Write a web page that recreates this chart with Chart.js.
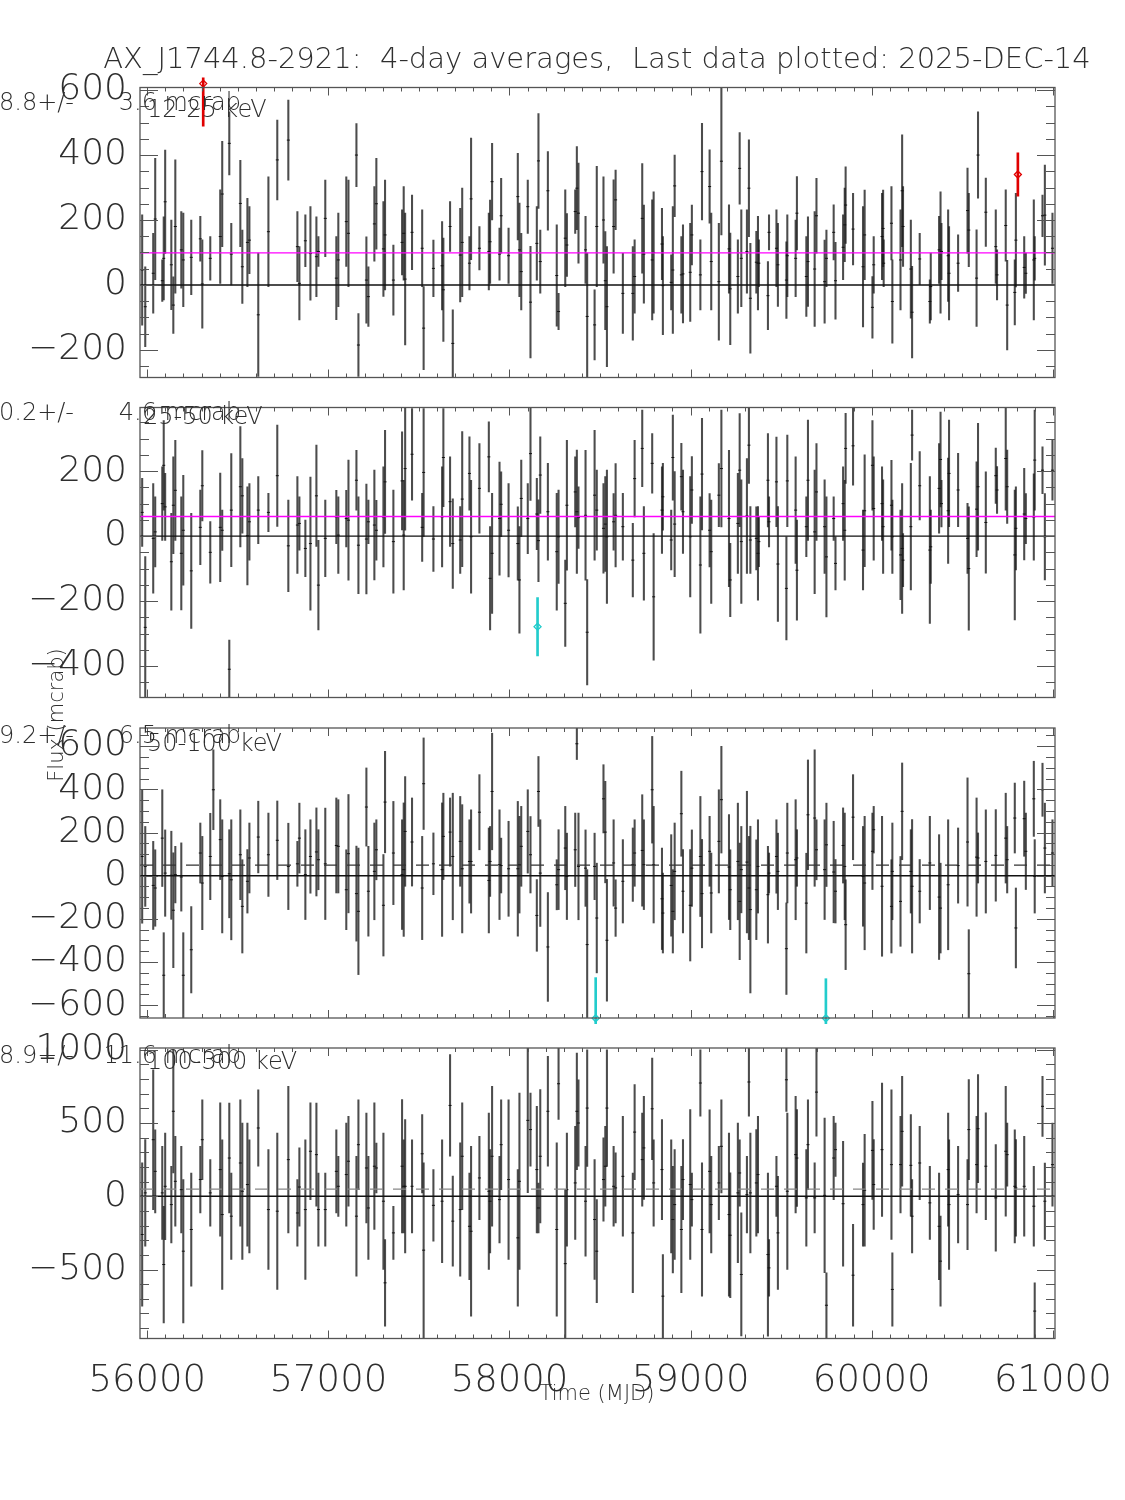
<!DOCTYPE html>
<html lang="en">
<head>
  <meta charset="UTF-8">
  <title>AX_J1744.8-2921 4-day averages</title>
  <script src="https://cdn.jsdelivr.net/npm/chart.js"></script>
  <style>
    body { margin: 0; background: #ffffff; }
    #wrap { position: relative; width: 1125px; height: 1500px; background: #ffffff; overflow: hidden; }
    #wrap canvas { position: absolute; left: 0; }
  </style>
</head>
<body>
  <div id="wrap">
    <canvas id="c1" width="1125" height="430" style="top:0px"></canvas>
    <canvas id="c2" width="1125" height="400" style="top:350px"></canvas>
    <canvas id="c3" width="1125" height="470" style="top:600px"></canvas>
    <canvas id="c4" width="1125" height="510" style="top:990px"></canvas>
  </div>
  <script>
    // time of each 4-day bin (MJD), shared by the four bands
    const mjd = [
      55972, 55989, 56033, 56044, 56083, 56091, 56099, 56133, 56144, 56155,
      56188, 56199, 56243, 56293, 56304, 56348, 56365, 56403, 56414, 56453,
      56464, 56514, 56525, 56553, 56564, 56613, 56669, 56718, 56779, 56829,
      56840, 56873, 56901, 56934, 56945, 56983, 57044, 57055, 57099, 57111,
      57155, 57166, 57210, 57221, 57254, 57265, 57304, 57313, 57359, 57407,
      57416, 57424, 57462, 57518, 57526, 57580, 57628, 57635, 57672, 57687,
      57728, 57739, 57779, 57788, 57834, 57886, 57893, 57904, 57945, 57954,
      57995, 58046, 58055, 58065, 58101, 58116, 58151, 58160, 58170, 58212,
      58261, 58271, 58308, 58317, 58363, 58372, 58381, 58420, 58429, 58470,
      58482, 58519, 58529, 58538, 58575, 58586, 58626, 58681, 58691, 58733,
      58742, 58788, 58796, 58842, 58847, 58893, 58902, 58912, 58949, 58958,
      58998, 59007, 59054, 59063, 59105, 59114, 59156, 59170, 59212, 59219,
      59261, 59271, 59280, 59311, 59322, 59330, 59363, 59372, 59377, 59427,
      59433, 59474, 59482, 59529, 59534, 59580, 59587, 59639, 59648, 59685,
      59695, 59740, 59750, 59790, 59800, 59842, 59851, 59856, 59897, 59952,
      59961, 60004, 60011, 60057, 60063, 60066, 60109, 60114, 60159, 60168,
      60173, 60216, 60223, 60265, 60321, 60326, 60372, 60380, 60385, 60422,
      60427, 60477, 60529, 60536, 60579, 60587, 60630, 60685, 60692, 60740,
      60748, 60790, 60796, 60842, 60851, 60895, 60900, 60943, 60956, 60998
    ];

    // 12-25 keV
    const flux12 = [
      46, -67, 36, 203, 13, 82, 256, 62, -62, 180,
      108, 77, 85, 142, 3, 82, null, 149, 280, 436,
      95, 251, 56, 131, 138, -92, 164, 385, 446, 118,
      5, 136, 97, 87, 103, 205, 21, 77, 195, 159,
      400, -185, 15, -36, 188, 250, 111, 154, 15, 131,
      159, 18, 162, 113, -133, 51, 59, -15, 180, -180,
      92, 131, 67, 265, 113, 103, 133, 318, 95, 213,
      90, 272, 108, 41, 241, -53, 128, 382, 72, 290,
      29, -82, 144, 123, 226, 298, 221, 108, -97, -123,
      180, 200, 13, -67, 180, 262, -26, -26, 26, 205,
      95, 77, 100, 126, -2, 8, 46, 305, 31, 34,
      39, 154, 31, 349, 303, 72, 10, 381, 111, -12,
      26, 359, 82, 103, 298, -41, 70, 67, 67, -33,
      162, 113, 62, 15, 90, 82, 221, 26, 72, 49,
      213, 10, 82, 162, 13, 116, 185, 246, 172, 56,
      154, -69, 62, 149, 174, 67, 190, -51, 77, 290,
      180, 49, -84, 80, -51, -5, 108, 100, 103, 90,
      36, 67, 229, 169, 21, 400, 224, 118, 31, 183,
      -62, -23, 138, 54, 36, 77, 82, 213, 215, 113
    ];
    const err12 = [
      170, 123, 123, 187, 64, 128, 159, 138, 87, 205,
      118, 144, 115, 69, 136, 67, null, 144, 162, 97,
      95, 133, 113, 136, 103, 190, 169, 123, 123, 108,
      113, 80, 144, 123, 46, 118, 128, 144, 138, 164,
      97, 97, 133, 92, 115, 140, 146, 169, 108, 100,
      144, 203, 115, 118, 128, 87, 136, 159, 77, 103,
      144, 167, 82, 187, 67, 118, 128, 118, 80, 115,
      85, 133, 144, 118, 82, 172, 113, 146, 97, 121,
      156, 56, 149, 97, 67, 128, 154, 103, 195, 108,
      185, 133, 151, 185, 144, 92, 123, 144, 113, 169,
      151, 185, 187, 110, 151, 85, 195, 95, 118, 151,
      151, 92, 108, 149, 113, 149, 180, 227, 136, 172,
      113, 110, 149, 128, 149, 169, 95, 144, 72, 105,
      54, 118, 128, 118, 126, 118, 113, 123, 138, 177,
      115, 128, 87, 85, 118, 100, 113, 118, 110, 185,
      138, 95, 87, 133, 118, 72, 113, 128, 154, 172,
      123, 151, 141, 79, 67, 103, 103, 187, 87, 141,
      144, 87, 131, 113, 149, 133, 105, 113, 77, 110,
      138, 100, 144, 95, 62, 185, 67, 64, 154, 108
    ];

    // 25-50 keV
    const flux25 = [
      73, -281, -7, 13, 100, 218, 90, -79, 95, 141,
      -53, 18, -107, 27, 155, -50, null, 27, 18, -410,
      80, 152, 124, 1, 44, 80, 73, 186, -30, 34,
      39, -38, -23, 124, -151, -7, 59, 3, 54, 49,
      172, -28, -9, 44, 34, 18, 59, 167, -17, 170,
      3, 208, 252, 27, 196, -9, 59, 242, 106, -23,
      -12, 114, 193, -2, 147, 244, -130, -53, 54, 98,
      18, -23, -135, 116, 54, 254, 68, -14, 188, 75,
      -48, -2, -207, 95, 136, 75, 57, 64, -296, 126,
      80, 24, 37, -2, 44, 64, 29, -74, 177, 270,
      -53, 224, -187, 80, 121, -12, 242, 37, 183, 75,
      -2, 142, -89, 191, 18, -48, 126, 208, 54, -135,
      39, 203, -17, 62, 280, -12, -7, -53, -17, 172,
      44, 167, -86, -161, 170, 80, -105, 29, 172, 13,
      136, 29, -64, 54, -84, 100, 18, 270, 278, -43,
      78, 218, 85, 100, 29, null, 95, -2, -58, -38,
      -74, 29, 311, 155, -43, -33, 147, 236, 100, 78,
      193, 142, -7, -100, 83, 152, 42, 186, 142, 239,
      152, -58, 24, 68, 54, 59, 234, 203, -2, 203
    ];
    const err25 = [
      105, 218, 169, 108, 113, 138, 103, 149, 149, 154,
      174, 169, 177, 115, 108, 95, null, 167, 62, 90,
      174, 185, 115, 151, 118, 103, 59, 156, 141, 149,
      82, 87, 205, 156, 138, 118, 82, 118, 87, 185,
      92, 149, 169, 67, 169, 92, 154, 159, 159, 151,
      169, 190, 141, 105, 197, 100, 154, 151, 138, 138,
      103, 208, 113, 174, 138, 108, 159, 185, 174, 100,
      144, 113, 164, 118, 108, 144, 110, 126, 118, 149,
      180, 144, 133, 200, 108, 190, 95, 200, 162, 200,
      123, 138, 146, 205, 87, 159, 103, 113, 118, 118,
      144, 92, 195, 133, 103, 92, 131, 162, 103, 128,
      185, 103, 210, 172, 113, 159, 97, 180, 210, 113,
      154, 174, 190, 177, 118, 103, 97, 144, 77, 144,
      77, 138, 177, 159, 141, 164, 154, 92, 185, 190,
      149, 144, 185, 67, 82, 113, 154, 108, 121, 123,
      172, 138, 159, 113, 144, null, 138, 113, 138, 200,
      82, 195, 77, 105, 226, 113, 138, 146, 72, 162,
      164, 113, 108, 190, 146, 195, 156, 85, 72, 159,
      113, 200, 128, 141, 77, 133, 154, 72, 133, 92
    ];

    // 50-100 keV
    const flux50 = [
      89, 43, -45, -57, 174, -461, 12, 2, -160, 5,
      -6, -461, -343, 105, -34, 89, 398, 167, -3, 9,
      -19, 97, -142, -26, 82, 179, 97, 164, 43, 55,
      174, 5, 89, 110, 74, 55, 140, 136, -65, 102,
      -83, -165, 318, -72, 20, 120, -137, 341, 105, 5,
      28, 205, 156, -57, 426, 55, 28, 182, 202, 89,
      159, 32, 66, 66, 294, -22, 66, 390, 51, 47,
      32, 32, 51, 136, 205, 97, -184, 390, 12, -330,
      -42, 28, 128, -3, 120, 611, 43, 35, -319, 43,
      -196, 356, 202, -299, 59, -150, -26, 51, 105, 117,
      51, 398, 51, -107, -173, -45, -165, 20, 287, -72,
      -137, 35, 89, -83, 113, -80, 159, 352, 40, -65,
      66, -119, 28, 63, -57, -157, -65, 43, null, -88,
      12, 89, 20, -338, 105, 74, 82, -127, 282, 267,
      120, 28, 143, 17, -72, 140, 43, -227, 271, -3,
      -34, 113, 213, -49, null, null, -142, 20, -119, 298,
      null, 20, -49, -72, 59, null, -99, -150, null, -42,
      null, 47, 156, -454, 86, 82, 66, 94, null, 174,
      74, 267, -242, 264, 113, 356, -3, 398, 128, 105
    ];
    const err50 = [
      309, 185, 204, 177, 224, 197, 200, 204, 266, 131,
      158, 197, 200, 139, 216, 200, 185, 185, 262, 204,
      278, 208, 216, 147, 162, 166, 193, 182, 200, 104,
      162, 208, 170, 204, 139, 258, 220, 216, 185, 274,
      220, 293, 181, 208, 224, 139, 235, 235, 239, 254,
      309, 254, 204, 239, 212, 143, 309, 200, 158, 293,
      208, 297, 193, 239, 174, 243, 162, 270, 254, 127,
      220, 312, 224, 185, 193, 177, 166, 162, 247, 252,
      116, 185, 193, 200, 170, 73, 247, 177, 347, 154,
      254, 158, 235, 282, 200, 131, 193, 170, 154, 258,
      208, 247, 270, 235, 185, 235, 193, 224, 197, 193,
      258, 177, 278, 251, 162, 185, 239, 247, 243, 185,
      270, 270, 200, 328, 239, 386, 231, 216, null, 224,
      93, 170, 177, 212, 231, 278, 131, 231, 254, 316,
      139, 231, 193, 235, 147, 174, 247, 208, 197, 231,
      309, 177, 108, 324, null, null, 216, 224, 208, 224,
      null, 193, 309, 147, 216, null, 289, 208, null, 301,
      null, 174, 297, 204, 274, 116, 239, 212, null, 208,
      154, 162, 185, 174, 177, 174, 170, 123, 208, 154
    ];

    // 100-300 keV
    const flux100 = [
      -261, 23, 386, 170, 23, -466, 68, -57, 580, 102,
      45, -375, -227, 114, 386, 23, null, 182, -125, 261,
      -136, 227, 34, 80, 0, 466, -91, -102, 250, -114,
      63, -91, 307, 284, -91, -91, 170, 68, 148, 239,
      -136, 352, 193, -80, 205, 193, -34, -591, -250, 205,
      68, 68, 68, 290, -368, -62, -34, null, 620, -170,
      -91, 273, -205, -239, 125, 34, -34, 273, -23, 352,
      114, -284, 102, null, 518, 455, 182, -80, 273, 580,
      -227, 768, -460, 45, 91, 580, 500, -34, 602, -159,
      -375, 114, 205, 602, 68, 57, 136, -250, 438, 250,
      330, 597, 91, 182, -682, 0, -159, -57, -227, 114,
      80, -23, 773, -227, 170, -57, 91, 341, -125, -266,
      23, 159, -534, 11, 780, 23, 91, 148, null, -398,
      -489, 68, -250, 795, 34, 284, 261, -11, 352, -11,
      711, 6, -744, 261, 318, -51, null, null, -539, -57,
      41, 313, 80, 318, null, null, 216, -636, 216, 443,
      null, 211, -136, 227, -45, null, -205, -443, null, 182,
      -57, 11, -57, 455, 216, 461, 205, -11, null, 307,
      284, 68, 57, 68, null, -68, -784, 614, -34, 216
    ];
    const err100 = [
      489, 364, 477, 284, 318, 398, 364, 261, 420, 307,
      295, 489, 386, 227, 273, 227, null, 455, 511, 375,
      295, 432, 466, 420, 386, 261, 409, 534, 500, 227,
      267, 477, 330, 352, 250, 250, 284, 205, 352, 307,
      409, 307, 375, 352, 432, 170, 466, 295, 182, 455,
      318, 455, 318, 267, 597, 244, 420, null, 347, 307,
      455, 364, 364, 580, 284, 534, 352, 477, 295, 307,
      545, 466, 602, null, 494, 250, 432, 170, 455, 375,
      591, 244, 506, 386, 386, 398, 295, 375, 398, 409,
      352, 284, 273, 398, 273, 239, 409, 409, 324, 318,
      352, 347, 295, 341, 284, 386, 364, 375, 432, 273,
      511, 182, 227, 455, 420, 330, 250, 318, 557, 426,
      477, 227, 420, 261, 233, 409, 364, 398, null, 557,
      193, 205, 386, 216, 534, 398, 330, 330, 307, 239,
      301, 528, 222, 284, 182, 426, null, null, 347, 284,
      381, 335, 307, 455, null, null, 511, 250, 330, 375,
      null, 347, 250, 250, 250, null, 364, 307, null, 386,
      443, 330, 307, 341, 330, 369, 364, 364, null, 443,
      216, 386, 330, 341, null, 273, 193, 205, 261, 284
    ];

    // highlighted points (red = high, cyan = low)
    const redMjd = [56309, 60807];
    const redFlux = [620, 340];
    const redErr = [131, 67];
    const cyan25Mjd = [58155];
    const cyan25Flux = [-279];
    const cyan25Err = [90];
    const cyan50Mjd = [58476, 59747];
    const cyan50Flux = [-660, -660];
    const cyan50Err = [188, 183];

    const bandNames = ['12-25 keV', '25-50 keV', '50-100 keV', '100-300 keV'];
    const bandMean = [98.8, 60.2, 49.2, 48.9];
    const bandMeanErr = [3.6, 4.6, 6.5, 11.6];

    const xTicks = [56000, 57000, 58000, 59000, 60000, 61000];
    const yTicks12 = [-200, 0, 200, 400, 600];
    const yTicks25 = [-400, -200, 0, 200];
    const yTicks50 = [-600, -400, -200, 0, 200, 400, 600];
    const yTicks100 = [-500, 0, 500, 1000];

    const X_MIN = 55960, X_MAX = 61012;
    const FONT = "'DejaVu Sans', sans-serif";
    const TXT = '#2e2e2e';

    function errBars(xs, vals, errs) {
      const out = [];
      xs.forEach((x, i) => {
        if (vals[i] !== null) out.push({ x: x, y: [vals[i] - errs[i], vals[i] + errs[i]] });
      });
      return out;
    }
    function centers(xs, vals) {
      const out = [];
      xs.forEach((x, i) => { if (vals[i] !== null) out.push({ x: x, y: vals[i] }); });
      return out;
    }
    const minus = v => (v < 0 ? '\u2212' + (-v) : String(v));

    // frame, inward ticks and free text
    const framePlugin = {
      id: 'frame',
      afterDraw(chart, args, opts) {
        const { ctx, chartArea: a } = chart;
        const x = chart.scales.x, y = chart.scales.y;
        ctx.save();
        ctx.strokeStyle = '#555';
        ctx.lineWidth = 1.3;
        ctx.strokeRect(a.left, a.top, a.right - a.left, a.bottom - a.top);
        ctx.lineWidth = 1;
        ctx.beginPath();
        for (let v = 56000; v <= 61000; v += 100) {
          const px = Math.round(x.getPixelForValue(v)) + 0.5;
          const len = v % 1000 === 0 ? 8 : 4;
          ctx.moveTo(px, a.bottom); ctx.lineTo(px, a.bottom - len);
          ctx.moveTo(px, a.top); ctx.lineTo(px, a.top + len);
        }
        const start = Math.ceil(y.min / opts.minor) * opts.minor;
        for (let v = start; v <= y.max; v += opts.minor) {
          const py = Math.round(y.getPixelForValue(v)) + 0.5;
          const len = opts.yTicks.includes(v) ? 18 : 9;
          ctx.moveTo(a.left, py); ctx.lineTo(a.left + len, py);
          ctx.moveTo(a.right, py); ctx.lineTo(a.right - len, py);
        }
        ctx.stroke();
        ctx.fillStyle = TXT;
        ctx.textBaseline = 'middle';
        (opts.texts || []).forEach(t => {
          ctx.save();
          ctx.font = '200 ' + t.size + 'px ' + FONT;
          ctx.textAlign = t.align || 'left';
          ctx.translate(t.x, t.y);
          if (t.rotate) ctx.rotate(t.rotate);
          ctx.fillText(t.text, 0, 0);
          ctx.restore();
        });
        ctx.restore();
      }
    };

    const panels = [
      { id: 'c1', top: 0, height: 430, areaTop: 87.5, areaBottom: 377.5, yMin: -285, yMax: 608,
        yTicks: yTicks12, minor: 50, flux: flux12, err: err12, band: 0,
        meanColor: '#ff00ff', meanDash: [],
        special: [{ xs: redMjd, vals: redFlux, errs: redErr, color: '#e00000' }] },
      { id: 'c2', top: 350, height: 400, areaTop: 407.5, areaBottom: 697.5, yMin: -497, yMax: 396,
        yTicks: yTicks25, minor: 50, flux: flux25, err: err25, band: 1,
        meanColor: '#ff00ff', meanDash: [],
        special: [{ xs: cyan25Mjd, vals: cyan25Flux, errs: cyan25Err, color: '#22cccc' }] },
      { id: 'c3', top: 600, height: 470, areaTop: 728, areaBottom: 1018, yMin: -659, yMax: 684,
        yTicks: yTicks50, minor: 50, flux: flux50, err: err50, band: 2,
        meanColor: '#333', meanDash: [13, 10],
        special: [{ xs: cyan50Mjd, vals: cyan50Flux, errs: cyan50Err, color: '#22cccc' }] },
      { id: 'c4', top: 990, height: 510, areaTop: 1048, areaBottom: 1338.5, yMin: -971, yMax: 1012,
        yTicks: yTicks100, minor: 100, flux: flux100, err: err100, band: 3,
        meanColor: '#888', meanDash: [13, 10], special: [], showX: true }
    ];

    const X_AXIS_H = 100;
    const textY = [[104, 111], [414, 418], [737, 745], [1057, 1063]];

    panels.forEach(p => {
      const b = p.band;
      const texts = [
        { text: bandMean[b].toFixed(1) + '+/-', x: 74, y: textY[b][0] - p.top, size: 24, align: 'right' },
        { text: bandMeanErr[b].toFixed(1) + ' mcrab', x: 241, y: textY[b][0] - p.top, size: 24, align: 'right' },
        { text: bandNames[b], x: b === 1 ? 143 : 147, y: textY[b][1] - p.top, size: 24, align: 'left' }
      ];
      if (b === 0) {
        texts.push({ text: 'AX_J1744.8-2921:  4-day averages,  Last data plotted: 2025-DEC-14',
          x: 597, y: 60, size: 29, align: 'center' });
      }
      if (b === 2) {
        texts.push({ text: 'Flux (mcrab)', x: 58, y: 715 - p.top, size: 21, align: 'center', rotate: -Math.PI / 2 });
      }
      if (b === 3) {
        texts.push({ text: 'Time (MJD)', x: 597, y: 1395 - p.top, size: 21, align: 'center' });
      }

      const datasets = [
        { type: 'line', data: [{ x: X_MIN, y: 0 }, { x: X_MAX, y: 0 }], borderColor: '#111',
          borderWidth: 1.4, pointRadius: 0, order: 0 },
        { type: 'line', data: [{ x: X_MIN, y: bandMean[b] }, { x: X_MAX, y: bandMean[b] }],
          borderColor: p.meanColor, borderDash: p.meanDash, borderWidth: 1.4, pointRadius: 0, order: 0 },
        { type: 'bar', data: errBars(mjd, p.flux, p.err), backgroundColor: 'rgba(25,25,25,0.78)',
          barThickness: 1.4, grouped: false, order: 2 },
        { type: 'scatter', data: centers(mjd, p.flux), pointStyle: 'line', radius: 1.5,
          borderColor: '#111', borderWidth: 1, order: 1 }
      ];
      p.special.forEach(s => {
        datasets.push({ type: 'bar', data: errBars(s.xs, s.vals, s.errs), backgroundColor: s.color,
          barThickness: 2, grouped: false, order: 0, clip: { left: 0, right: 0, top: 10, bottom: 6 } });
        datasets.push({ type: 'scatter', data: centers(s.xs, s.vals), pointStyle: 'rectRot', radius: 3.5,
          borderColor: s.color, backgroundColor: 'rgba(255,255,255,0)', borderWidth: 1.3, order: 0,
          clip: { left: 0, right: 0, top: 10, bottom: 6 } });
      });

      const bottomSpace = p.top + p.height - p.areaBottom;

      new Chart(document.getElementById(p.id), {
        type: 'bar',
        data: { datasets: datasets },
        options: {
          responsive: false,
          animation: false,
          devicePixelRatio: 1,
          events: [],
          layout: { padding: { left: 0, right: 70, top: p.areaTop - p.top,
            bottom: p.showX ? bottomSpace - X_AXIS_H : bottomSpace } },
          plugins: {
            legend: { display: false },
            tooltip: { enabled: false },
            frame: { yTicks: p.yTicks, minor: p.minor, texts: texts }
          },
          scales: {
            x: {
              type: 'linear', min: X_MIN, max: X_MAX, offset: false, display: !!p.showX,
              grid: { display: false, drawTicks: false }, border: { display: false },
              afterBuildTicks: s => { s.ticks = xTicks.map(v => ({ value: v })); },
              afterFit: s => { s.height = p.showX ? X_AXIS_H : 0; },
              ticks: { padding: 6, color: TXT, autoSkip: false, maxRotation: 0,
                font: { family: FONT, size: 37, weight: '200', lineHeight: 2 },
                callback: v => String(v) }
            },
            y: {
              type: 'linear', min: p.yMin, max: p.yMax,
              grid: { display: false, drawTicks: false }, border: { display: false },
              afterBuildTicks: s => { s.ticks = p.yTicks.map(v => ({ value: v })); },
              afterFit: s => { s.width = 140; },
              ticks: { padding: 13, color: TXT, autoSkip: false,
                font: { family: FONT, size: 36, weight: '200' },
                callback: v => minus(v) }
            }
          }
        },
        plugins: [framePlugin]
      });
    });
  </script>
</body>
</html>
